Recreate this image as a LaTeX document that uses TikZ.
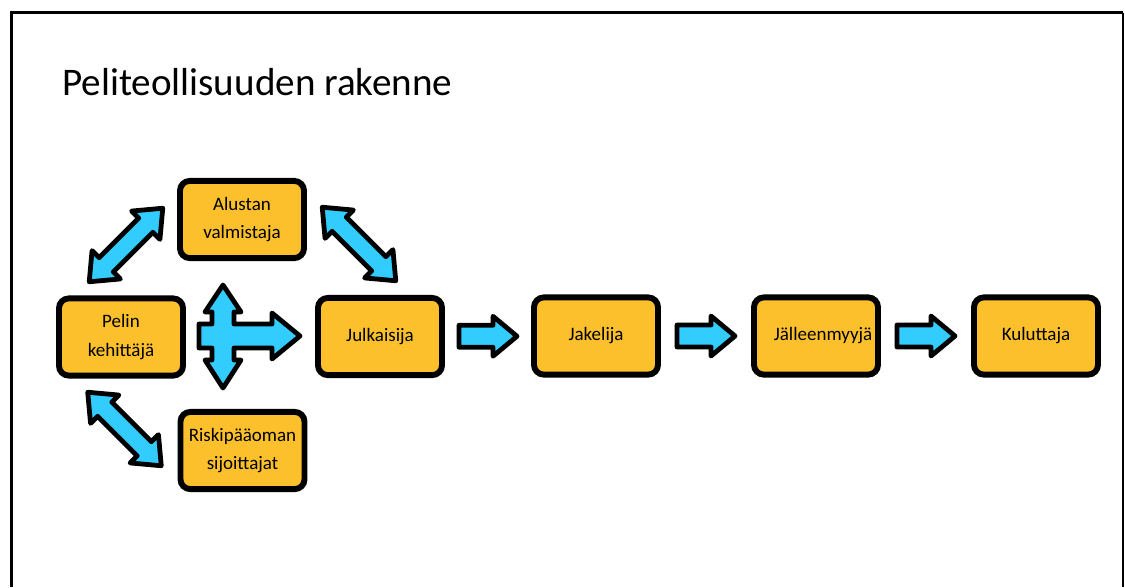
\documentclass[tikz,border=0pt]{standalone}
\usepackage{fontspec}
\setmainfont{Carlito}
\usetikzlibrary{calc}
\definecolor{boxgold}{RGB}{252,192,45}
\definecolor{arrowblue}{RGB}{51,204,255}
\tikzset{
  actor/.style={draw=black, line width=4.2pt, fill=boxgold, rounded corners=7pt,
    minimum width=3.1cm, minimum height=1.93cm, align=center, inner sep=0pt,
    font=\fontsize{13.5}{20.5}\selectfont},
  blockarrow/.style={draw=black, line width=3.4pt, fill=arrowblue, line join=round},
  pics/onearrow/.style={code={
    \draw[blockarrow] (-29,-11) -- (5,-11) -- (5,-20) -- (29,0) -- (5,20) -- (5,11) -- (-29,11) -- cycle;}},
  pics/twoarrow/.style={code={
    \draw[blockarrow] (-52,0) -- (-28,-20) -- (-28,-10) -- (28,-10) -- (28,-20) -- (52,0)
      -- (28,20) -- (28,10) -- (-28,10) -- (-28,20) -- cycle;}},
}
\begin{document}
\begin{tikzpicture}[x=0.025cm, y=-0.025cm]
\useasboundingbox (0,0) rectangle (1125,587);

% frame
\draw[line width=2.2pt] (11.5,587) -- (11.5,12.5) -- (1123,12.5);
\draw[line width=0.8pt] (1123,12.5) -- (1123,587);

\node[anchor=base west, inner sep=0pt, font=\fontsize{27.8}{33}\selectfont] (title) at (62,95) {Peliteollisuuden rakenne};

% boxes
\node[actor] (alustan) at (242,219.5) {Alustan\\valmistaja};
\node[actor] (pelin) at (121,337) {Pelin\\kehittäjä};
\node[actor] (julk) at (380,336.5) {Julkaisija};
\node[actor] (riski) at (242.5,450.5) {Riskipääoman\\sijoittajat};
\node[actor] (jakelija) at (596,336) {Jakelija};
\node[actor] (jalleen) at (816,336) {\hspace*{10pt}Jälleenmyyjä};
\node[actor] (kuluttaja) at (1036,336) {Kuluttaja};

% two-way arrows
\pic[rotate=45] at (126,245) {twoarrow};
\pic[rotate=-45] at (359,244) {twoarrow};
\pic[rotate=-45] at (124.5,429) {twoarrow};

% cross arrow
\draw[blockarrow, shift={(223,336)}] (0,-51) -- (18,-24) -- (11,-24) -- (11,-12) -- (49,-12) -- (49,-23)
  -- (77,0) -- (49,23) -- (49,12) -- (11,12) -- (11,24) -- (18,24) -- (0,52) -- (-18,24)
  -- (-11,24) -- (-11,12) -- (-24,12) -- (-24,-12) -- (-11,-12) -- (-11,-24) -- (-18,-24) -- cycle;

% chain arrows
\pic at ($(julk.east)!0.5!(jakelija.west)$) {onearrow};
\pic at ($(jakelija.east)!0.5!(jalleen.west)$) {onearrow};
\pic at ($(jalleen.east)!0.5!(kuluttaja.west)$) {onearrow};

\end{tikzpicture}
\end{document}
